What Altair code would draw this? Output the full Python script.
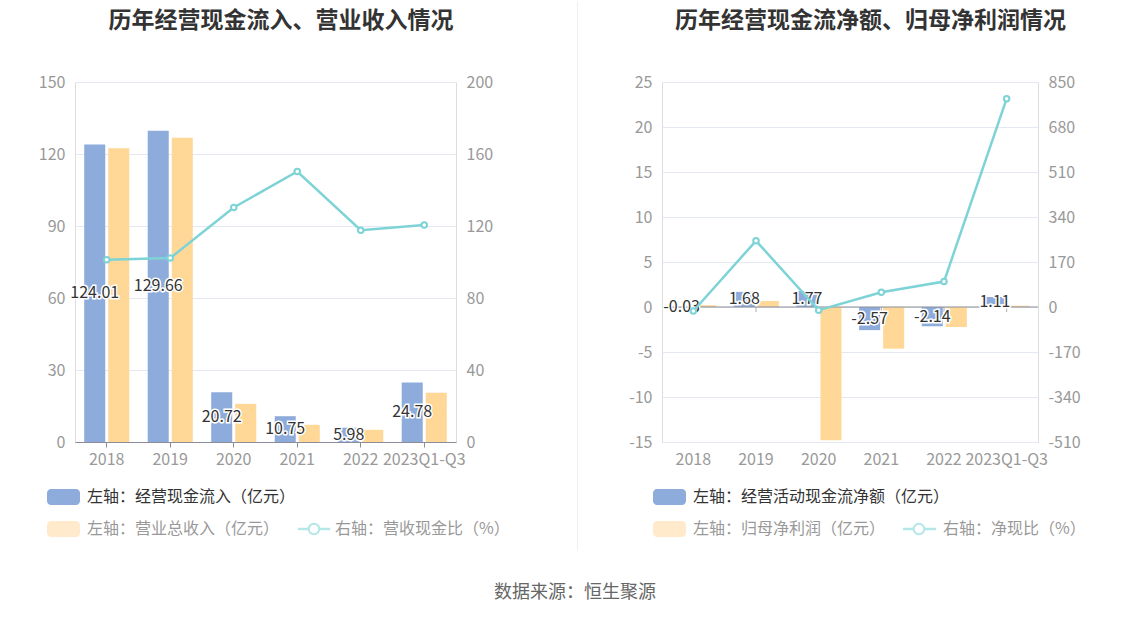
import altair as alt
import pandas as pd

cats = ["2018", "2019", "2020", "2021", "2022", "2023Q1-Q3"]

# left panel
cash_in = [124.01, 129.66, 20.72, 10.75, 5.98, 24.78]
revenue = [122.4, 126.8, 15.9, 7.15, 5.08, 20.55]
rev_cash_ratio = [101.3, 102.2, 130.3, 150.3, 117.7, 120.6]

# right panel
net_cf = [-0.03, 1.68, 1.77, -2.57, -2.14, 1.11]
net_profit = [0.2, 0.67, -14.8, -4.63, -2.22, 0.14]
net_cash_ratio = [-15.0, 250.0, -12.0, 55.5, 96.0, 787.0]

left_title = "历年经营现金流入、营业收入情况"
right_title = "历年经营现金流净额、归母净利润情况"
left_legend = ["左轴：经营现金流入（亿元）", "左轴：营业总收入（亿元）", "右轴：营收现金比（%）"]
right_legend = ["左轴：经营活动现金流净额（亿元）", "左轴：归母净利润（亿元）", "右轴：净现比（%）"]
source_text = "数据来源：恒生聚源"

left_y_ticks = [0, 30, 60, 90, 120, 150]
left_r_ticks = [0, 40, 80, 120, 160, 200]
right_y_ticks = [-15, -10, -5, 0, 5, 10, 15, 20, 25]
right_r_ticks = [-510, -340, -170, 0, 170, 340, 510, 680, 850]

FONT = "Noto Sans CJK SC"
BLUE = "#8EACDB"
ORANGE = "#FFD797"
TEAL = "#7DD3D6"
ORANGE_FADE = "#FFEBCC"
TEAL_FADE = "#B5E6E8"
GRID = "#E3E8F3"
AXIS = "#8A8D99"
LABEL = "#999999"
DARK = "#333333"
H = 360
LABEL_EXPR = "'' + datum.value"


def one(d):
    return alt.Chart(pd.DataFrame(d))


def panel(width, v1, v2, ratio, y_dom, y_ticks, r_dom, r_ticks, title, legend,
          title_x, leg, zero_axis, extras):
    bars_df = pd.DataFrame({
        "cat": cats * 2,
        "series": ["a"] * 6 + ["b"] * 6,
        "value": v1 + v2,
    })
    lab_df = pd.DataFrame({
        "cat": cats,
        "series": ["a"] * 6,
        "value": v1,
        "label": [f"{v:.2f}" for v in v1],
    })
    line_df = pd.DataFrame({"cat": cats, "ratio": ratio})

    if zero_axis:
        xaxis = alt.Axis(title=None, labelAngle=0, labelColor=LABEL, labelFontSize=16,
                         labelOverlap=False, domain=False, ticks=False, tickSize=0,
                         labelPadding=9, grid=False, labelFont=FONT)
    else:
        xaxis = alt.Axis(title=None, labelAngle=0, labelColor=LABEL, labelFontSize=16,
                         labelOverlap=False, domain=True, domainColor=AXIS,
                         ticks=True, tickColor=AXIS, tickSize=5, labelPadding=4,
                         grid=False, labelFont=FONT)
    x = alt.X("cat:N", sort=cats,
              scale=alt.Scale(domain=cats, paddingInner=0.29, paddingOuter=0.145),
              axis=xaxis)
    xo = alt.XOffset("series:N",
                     scale=alt.Scale(domain=["a", "b"], paddingInner=0.125, paddingOuter=0))
    yaxis = alt.Axis(title=None, values=y_ticks, grid=True, gridColor=GRID, domain=False,
                     ticks=False, labelColor=LABEL, labelFontSize=16, labelPadding=10,
                     labelFont=FONT, orient="left", labelExpr=LABEL_EXPR)
    yscale = alt.Scale(domain=y_dom, nice=False, zero=False)

    bars = alt.Chart(bars_df).mark_bar().encode(
        x=x, xOffset=xo,
        y=alt.Y("value:Q", scale=yscale, axis=yaxis),
        color=alt.Color("series:N", scale=alt.Scale(domain=["a", "b"], range=[BLUE, ORANGE]),
                        legend=None),
    )
    base_lab = alt.Chart(lab_df).transform_calculate(mid="datum.value / 2").encode(
        x=x, xOffset=xo,
        y=alt.Y("mid:Q", scale=yscale, axis=yaxis),
        text="label:N",
    )
    halo = base_lab.mark_text(fontSize=16, font=FONT, fill="white", stroke="white",
                              strokeWidth=3, baseline="middle", align="center")
    txt = base_lab.mark_text(fontSize=16, font=FONT, fill=DARK, baseline="middle",
                             align="center")

    inner = [bars]
    if zero_axis:
        zline = one({"z": [0]}).mark_rule(color=AXIS, strokeWidth=1.2).encode(
            y=alt.Y("z:Q", scale=yscale, axis=yaxis), x=alt.value(0), x2=alt.value(width))
        zticks = alt.Chart(pd.DataFrame({"cat": cats, "z": [0] * 6})).mark_tick(
            orient="vertical", size=5, thickness=1, color=AXIS, yOffset=2.5).encode(
            x=x, y=alt.Y("z:Q", scale=yscale, axis=yaxis))
        inner += [zline, zticks]
    inner += [halo, txt]

    # title
    inner.append(one({"t": [title]}).mark_text(fontSize=23, fontWeight="bold", font=FONT,
                                                color=DARK, align="center", baseline="middle")
                 .encode(text="t:N", x=alt.value(title_x), y=alt.value(-61)))
    # legend
    sx0, sx1, tx, lx0, lx1, cx, tx2 = leg
    r1, r2 = 415, 447
    inner.append(one({"a": [1]}).mark_rect(color=BLUE, cornerRadius=4).encode(
        x=alt.value(sx0), x2=alt.value(sx1), y=alt.value(r1 - 8), y2=alt.value(r1 + 8)))
    inner.append(one({"a": [1]}).mark_rect(color=ORANGE_FADE, cornerRadius=4).encode(
        x=alt.value(sx0), x2=alt.value(sx1), y=alt.value(r2 - 8), y2=alt.value(r2 + 8)))
    inner.append(one({"t": [legend[0]]}).mark_text(fontSize=16, font=FONT, color=DARK,
                                                   align="left", baseline="middle")
                 .encode(text="t:N", x=alt.value(tx), y=alt.value(r1)))
    inner.append(one({"t": [legend[1]]}).mark_text(fontSize=16, font=FONT, color=LABEL,
                                                   align="left", baseline="middle")
                 .encode(text="t:N", x=alt.value(tx), y=alt.value(r2)))
    inner.append(one({"a": [1]}).mark_rule(color=TEAL_FADE, strokeWidth=2.5).encode(
        x=alt.value(lx0), x2=alt.value(lx1), y=alt.value(r2)))
    inner.append(one({"a": [1]}).mark_point(filled=True, fill="white", stroke=TEAL_FADE,
                                            strokeWidth=2, size=110, opacity=1).encode(
        x=alt.value(cx), y=alt.value(r2)))
    inner.append(one({"t": [legend[2]]}).mark_text(fontSize=16, font=FONT, color=LABEL,
                                                   align="left", baseline="middle")
                 .encode(text="t:N", x=alt.value(tx2), y=alt.value(r2)))
    inner += extras

    raxis = alt.Axis(title=None, values=r_ticks, grid=False, domain=False, ticks=False,
                     labelColor=LABEL, labelFontSize=16, labelPadding=10, labelFont=FONT,
                     orient="right", labelExpr=LABEL_EXPR)
    rscale = alt.Scale(domain=r_dom, nice=False, zero=False)
    line = alt.Chart(line_df).mark_line(color=TEAL, strokeWidth=2.5).encode(
        x=x, y=alt.Y("ratio:Q", scale=rscale, axis=raxis))
    pts = alt.Chart(line_df).mark_point(filled=True, fill="white", stroke=TEAL, strokeWidth=2,
                                         size=30, opacity=1).encode(
        x=x, y=alt.Y("ratio:Q", scale=rscale, axis=raxis))

    return alt.layer(alt.layer(*inner), alt.layer(line, pts)).resolve_scale(
        y="independent").properties(width=width, height=H)


extras_left = [
    # anchor so the page origin is fixed (white, invisible on white background)
    one({"a": [1]}).mark_rule(color="white", strokeWidth=1).encode(
        x=alt.value(-73.5), y=alt.value(-80.5), y2=alt.value(-79)),
    # divider
    one({"a": [1]}).mark_rule(color="#EEEEEE", strokeWidth=1).encode(
        x=alt.value(502.5), y=alt.value(-80.5), y2=alt.value(469)),
    # source
    one({"t": [source_text]}).mark_text(fontSize=18, font=FONT, color="#666666",
                                        align="center", baseline="middle").encode(
        text="t:N", x=alt.value(500), y=alt.value(511)),
]

left = panel(381, cash_in, revenue, rev_cash_ratio, [0, 150], left_y_ticks, [0, 200],
             left_r_ticks, left_title, left_legend, 206,
             (-28, 5, 12, 223, 255, 239, 260), False, extras_left)
right = panel(376, net_cf, net_profit, net_cash_ratio, [-15, 25], right_y_ticks,
              [-510, 850], right_r_ticks, right_title, right_legend, 208.5,
              (-9, 24, 31, 241, 274, 257, 281), True, [])

chart = alt.hconcat(left, right, spacing=206, bounds="flush").properties(
    padding={"left": 0, "top": 0, "right": 0, "bottom": 0}
).configure_view(stroke=None).configure(font=FONT)

chart.save("out.html", embed_options={"renderer": "svg", "actions": False})
